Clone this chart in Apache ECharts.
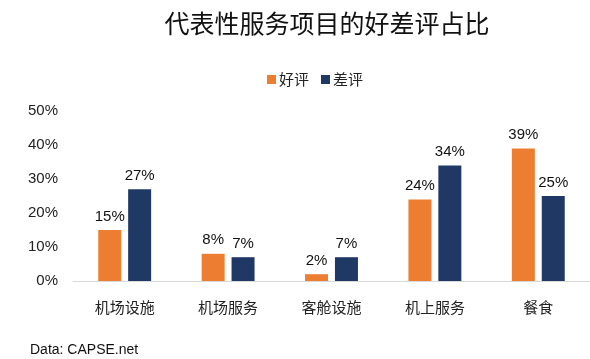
<!DOCTYPE html>
<html><head><meta charset="utf-8">
<script src="https://cdn.jsdelivr.net/npm/echarts@6/dist/echarts.min.js"></script>
<style>html,body{margin:0;padding:0;background:#fff}#c{width:590px;height:359px}</style>
</head><body><div id="c"></div>
<script>
const categories = ['机场设施','机场服务','客舱设施','机上服务','餐食'];
const goodValues = [15, 8, 2, 24, 39];
const badValues = [27, 7, 7, 34, 25];
const yTicks = [0, 10, 20, 30, 40, 50];

const font = '"Liberation Sans", Arial, "Noto Sans CJK SC", sans-serif';
const cjk = '"Noto Sans CJK SC", sans-serif';
const chart = echarts.init(document.getElementById('c'), null, {renderer:'canvas'});
chart.setOption({
  animation: false,
  backgroundColor: '#fff',
  title: {
    text: '代表性服务项目的好差评占比',
    left: 322, top: 6, textAlign: 'center',
    textStyle: {fontFamily: cjk, fontSize: 25, fontWeight: 'normal', color: '#111'}
  },
  legend: {
    data: ['好评','差评'], top: 67, left: 262,
    itemWidth: 9, itemHeight: 9, itemGap: 12,
    textStyle: {fontFamily: cjk, fontSize: 15, color: '#222', padding: [0,0,0,-2]},
    icon: 'rect'
  },
  graphic: [{
    type: 'text', left: 30, top: 343,
    style: {text: 'Data: CAPSE.net', font: '14px ' + font, fill: '#111'}
  }],
  grid: {left: 73, right: 0, top: 111, bottom: 78, containLabel: false},
  xAxis: {
    type: 'category', data: categories,
    axisLine: {lineStyle: {color: '#d9d9d9'}},
    axisTick: {show: false},
    axisLabel: {fontFamily: cjk, fontSize: 15, color: '#222', margin: 19}
  },
  yAxis: {
    type: 'value', min: yTicks[0], max: yTicks[yTicks.length-1], interval: 10,
    splitLine: {show: false}, axisLine: {show: false}, axisTick: {show: false},
    axisLabel: {formatter: '{value}%', fontFamily: font, fontSize: 15, color: '#222', margin: 15}
  },
  series: [
    {name: '好评', type: 'bar', data: goodValues, barWidth: 23, barGap: '30%',
     itemStyle: {color: '#ED7D31'},
     label: {show: true, position: 'top', formatter: '{c}%', fontFamily: font, fontSize: 15, color: '#111', distance: 6}},
    {name: '差评', type: 'bar', data: badValues, barWidth: 23,
     itemStyle: {color: '#203864'},
     label: {show: true, position: 'top', formatter: '{c}%', fontFamily: font, fontSize: 15, color: '#111', distance: 6}}
  ]
});
</script></body></html>
